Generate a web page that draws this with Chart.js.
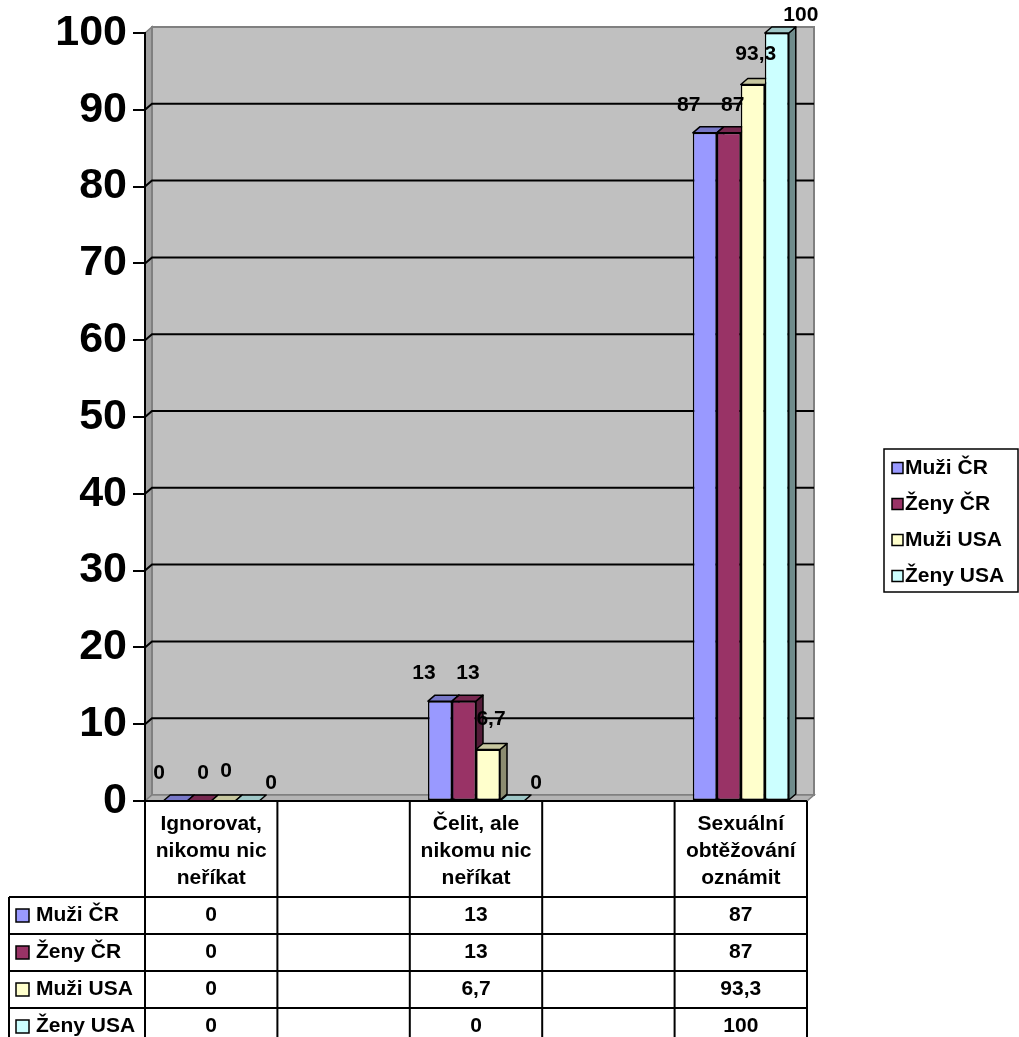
<!DOCTYPE html>
<html>
<head>
<meta charset="utf-8">
<script src="https://cdn.jsdelivr.net/npm/chart.js@4/dist/chart.umd.min.js"></script>
<style>
  body { margin: 0; background: #fff; }
  canvas { display: block; }
</style>
</head>
<body>
<canvas id="chart" width="1019" height="1037"></canvas>
<script>
const categories = [
  ["Ignorovat,", "nikomu nic", "neříkat"],
  [""],
  ["Čelit, ale", "nikomu nic", "neříkat"],
  [""],
  ["Sexuální", "obtěžování", "oznámit"]
];
const seriesNames = ["Muži ČR", "Ženy ČR", "Muži USA", "Ženy USA"];
const muziCR  = [0, null, 13, null, 87];
const zenyCR  = [0, null, 13, null, 87];
const muziUSA = [0, null, 6.7, null, 93.3];
const zenyUSA = [0, null, 0, null, 100];
const yMin = 0, yMax = 100, yStep = 10;

const colors = ["#9999FF", "#993366", "#FFFFCC", "#CCFFFF"];
const FONT = "Arial, 'Liberation Sans', sans-serif";
const DX = 7, DY = 6; // depth of the 3d effect

function shade(hex, f) {
  const n = parseInt(hex.slice(1), 16);
  const r = Math.round(((n >> 16) & 255) * f);
  const g = Math.round(((n >> 8) & 255) * f);
  const b = Math.round((n & 255) * f);
  return `rgb(${r},${g},${b})`;
}

function poly(ctx, pts, fill, stroke, lw) {
  ctx.beginPath();
  ctx.moveTo(pts[0][0], pts[0][1]);
  for (let i = 1; i < pts.length; i++) ctx.lineTo(pts[i][0], pts[i][1]);
  ctx.closePath();
  if (fill) { ctx.fillStyle = fill; ctx.fill(); }
  if (stroke) { ctx.strokeStyle = stroke; ctx.lineWidth = lw || 1; ctx.stroke(); }
}

function fmt(v) {
  return String(v).replace(".", ",");
}

// back wall, side wall, floor and gridlines
const wallPlugin = {
  id: "wall",
  beforeDraw(chart) {
    const { ctx, chartArea: a } = chart;
    const y = chart.scales.y;
    ctx.save();
    ctx.fillStyle = "#C0C0C0";
    ctx.fillRect(a.left + DX, a.top - DY, a.right - a.left, a.bottom - a.top);
    poly(ctx, [[a.left, a.top], [a.left + DX, a.top - DY], [a.left + DX, a.bottom - DY], [a.left, a.bottom]], "#A0A0A0", "#808080", 1.5);
    ctx.strokeStyle = "#808080";
    ctx.lineWidth = 2;
    ctx.strokeRect(a.left + DX, a.top - DY, a.right - a.left, a.bottom - a.top);

    ctx.strokeStyle = "#000";
    ctx.lineWidth = 2;
    for (let v = yMin + yStep; v < yMax; v += yStep) {
      const py = y.getPixelForValue(v);
      ctx.beginPath();
      ctx.moveTo(a.left, py);
      ctx.lineTo(a.left + DX, py - DY);
      ctx.lineTo(a.right + DX, py - DY);
      ctx.stroke();
    }
    poly(ctx, [[a.left, a.bottom], [a.right, a.bottom], [a.right + DX, a.bottom - DY], [a.left + DX, a.bottom - DY]], "#B4B4B4", "#808080", 1.5);
    ctx.restore();
  }
};

// side and top faces of the columns, drawn before the fronts
const depthPlugin = {
  id: "depth",
  beforeDatasetsDraw(chart) {
    const ctx = chart.ctx;
    ctx.save();
    ctx.lineJoin = "round";
    for (let i = 0; i < categories.length; i++) {
      chart.data.datasets.forEach((ds, d) => {
        const v = ds.data[i];
        if (v === null) return;
        const el = chart.getDatasetMeta(d).data[i];
        const { x, y, base, width } = el.getProps(["x", "y", "base", "width"], true);
        const x0 = x - width / 2, x1 = x + width / 2;
        if (v > 0) {
          poly(ctx, [[x1, y], [x1 + DX, y - DY], [x1 + DX, base - DY], [x1, base]], shade(colors[d], 0.55), "#000", 1.5);
        }
        poly(ctx, [[x0, y], [x1, y], [x1 + DX, y - DY], [x0 + DX, y - DY]], shade(colors[d], 0.78), "#000", 1.5);
      });
    }
    ctx.restore();
  }
};

// value labels above the columns
const labelNudge = [[-16, -28], [4, -28], [3, -30], [24, -18]];
const valuePlugin = {
  id: "values",
  afterDatasetsDraw(chart) {
    const ctx = chart.ctx;
    ctx.save();
    ctx.font = "bold 21px " + FONT;
    ctx.fillStyle = "#000";
    ctx.textAlign = "center";
    ctx.textBaseline = "middle";
    chart.data.datasets.forEach((ds, d) => {
      chart.getDatasetMeta(d).data.forEach((el, i) => {
        const v = ds.data[i];
        if (v === null) return;
        const { x, y } = el.getProps(["x", "y"], true);
        ctx.fillText(fmt(v), x + labelNudge[d][0], y + labelNudge[d][1]);
      });
    });
    ctx.restore();
  }
};

// data table under the plot and the legend box
const tablePlugin = {
  id: "table",
  afterDraw(chart) {
    const { ctx, chartArea: a } = chart;
    const xs = chart.scales.x;
    const step = (a.right - a.left) / categories.length;
    const edges = categories.map((_, i) => xs.getPixelForValue(i) - step / 2);
    edges.push(a.right);
    const headBottom = a.bottom + 96;
    const rowH = 37;
    const tableLeft = 9;
    const bottom = chart.height + 10;

    ctx.save();
    ctx.strokeStyle = "#000";
    ctx.lineWidth = 2;
    ctx.beginPath();
    ctx.moveTo(a.left, a.bottom);
    ctx.lineTo(a.right, a.bottom);
    edges.forEach(ex => { ctx.moveTo(ex, a.bottom); ctx.lineTo(ex, bottom); });
    ctx.moveTo(tableLeft, headBottom);
    ctx.lineTo(tableLeft, bottom);
    for (let r = 0; r <= seriesNames.length; r++) {
      const ry = headBottom + r * rowH;
      ctx.moveTo(tableLeft, ry);
      ctx.lineTo(a.right, ry);
    }
    ctx.stroke();

    ctx.font = "bold 21px " + FONT;
    ctx.fillStyle = "#000";
    ctx.textBaseline = "middle";
    ctx.textAlign = "center";
    categories.forEach((lines, i) => {
      const cx = xs.getPixelForValue(i);
      lines.forEach((t, k) => ctx.fillText(t, cx, a.bottom + 23 + k * 27));
    });

    chart.data.datasets.forEach((ds, d) => {
      const cy = headBottom + d * rowH + rowH / 2;
      ctx.fillStyle = colors[d];
      ctx.fillRect(16, cy - 6.5, 13, 13);
      ctx.lineWidth = 1.5;
      ctx.strokeRect(16, cy - 6.5, 13, 13);
      ctx.fillStyle = "#000";
      ctx.textAlign = "left";
      ctx.fillText(ds.label, 36, cy);
      ctx.textAlign = "center";
      ds.data.forEach((v, i) => {
        if (v === null) return;
        ctx.fillText(fmt(v), xs.getPixelForValue(i), cy);
      });
    });

    // legend
    const lx = 884, ly = 449, lw = 134, lh = 143;
    ctx.fillStyle = "#fff";
    ctx.fillRect(lx, ly, lw, lh);
    ctx.lineWidth = 1.5;
    ctx.strokeRect(lx, ly, lw, lh);
    ctx.textAlign = "left";
    chart.data.datasets.forEach((ds, d) => {
      const cy = ly + 19 + d * 36;
      ctx.fillStyle = colors[d];
      ctx.fillRect(892, cy - 5.5, 11, 11);
      ctx.strokeRect(892, cy - 5.5, 11, 11);
      ctx.fillStyle = "#000";
      ctx.fillText(ds.label, 905, cy);
    });
    ctx.restore();
  }
};

const seriesData = [muziCR, zenyCR, muziUSA, zenyUSA];

new Chart(document.getElementById("chart"), {
  type: "bar",
  data: {
    labels: categories,
    datasets: seriesData.map((data, d) => ({
      label: seriesNames[d],
      data: data,
      backgroundColor: colors[d],
      borderColor: "#000",
      borderWidth: 1.5,
      borderSkipped: false,
      barPercentage: 1,
      categoryPercentage: 0.725
    }))
  },
  options: {
    responsive: false,
    animation: false,
    layout: { padding: { left: 0, top: 33, right: 212, bottom: 236 } },
    plugins: {
      legend: { display: false },
      tooltip: { enabled: false }
    },
    scales: {
      x: { display: false },
      y: {
        min: yMin,
        max: yMax,
        afterFit(scale) { scale.width = 145; },
        ticks: {
          stepSize: yStep,
          color: "#000",
          padding: 6,
          font: { family: FONT, size: 43, weight: "bold" }
        },
        grid: {
          drawOnChartArea: false,
          drawTicks: true,
          tickLength: 12,
          color: "#000",
          lineWidth: 2
        },
        border: { display: true, color: "#000", width: 2 }
      }
    }
  },
  plugins: [wallPlugin, depthPlugin, valuePlugin, tablePlugin]
});
</script>
</body>
</html>
